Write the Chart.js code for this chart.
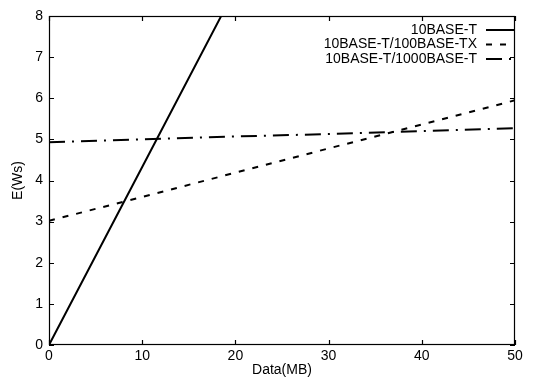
<!DOCTYPE html>
<html>
<head>
<meta charset="utf-8">
<script src="https://cdn.jsdelivr.net/npm/chart.js@4/dist/chart.umd.min.js"></script>
<style>
	body { margin: 0; background: #fff; }
	#wrap { width: 534px; height: 377px; }
</style>
</head>
<body>
<div id="wrap"><canvas id="mycanvas" width="534" height="377"></canvas></div>
<script>
// values (x = Data in MB, y = energy in Ws)
var dataMB = [0, 10, 20, 30, 40, 50];
var base10 = [0, 4.33, 8.66, 13.0, 17.3, 21.7];
var base100 = [3.02, 3.6, 4.19, 4.78, 5.36, 5.95];
var base1000 = [4.93, 5.0, 5.07, 5.13, 5.2, 5.27];
var seriesNames = ['10BASE-T', '10BASE-T/100BASE-TX', '10BASE-T/1000BASE-T'];
var xTicks = [0, 10, 20, 30, 40, 50];
var yTicks = [0, 1, 2, 3, 4, 5, 6, 7, 8];

function toPoints(ys) {
	var pts = [];
	for (var i in dataMB) {
		pts.push({x: dataMB[i], y: ys[i]});
	}
	return pts;
}

var fontName = '"Liberation Sans", Arial, sans-serif';

// gnuplot look: closed frame, inward ticks on all sides, legend top right
var framePlugin = {
	id: 'frame',
	afterDatasetsDraw: function(chart) {
		var ctx = chart.ctx;
		var a = chart.chartArea;
		var xs = chart.scales.x, ys = chart.scales.y;
		var t = 5;
		ctx.save();
		ctx.strokeStyle = '#000';
		ctx.lineWidth = 1.2;
		ctx.setLineDash([]);
		ctx.strokeRect(a.left + 0.5, a.top + 0.5, a.right - a.left - 1, a.bottom - a.top - 1);
		ctx.beginPath();
		xTicks.forEach(function(v) {
			var px = Math.round(xs.getPixelForValue(v)) + 0.5;
			ctx.moveTo(px, a.bottom); ctx.lineTo(px, a.bottom - t);
			ctx.moveTo(px, a.top); ctx.lineTo(px, a.top + t);
		});
		yTicks.forEach(function(v) {
			var py = Math.round(ys.getPixelForValue(v)) + 0.5;
			ctx.moveTo(a.left, py); ctx.lineTo(a.left + t, py);
			ctx.moveTo(a.right, py); ctx.lineTo(a.right - t, py);
		});
		ctx.stroke();

		// legend
		ctx.font = '14px ' + fontName;
		ctx.fillStyle = '#000';
		ctx.textAlign = 'right';
		ctx.textBaseline = 'middle';
		chart.data.datasets.forEach(function(ds, i) {
			var y = 30 + i * 14.5;
			ctx.fillText(ds.label, 477, y);
			ctx.beginPath();
			ctx.lineWidth = ds.borderWidth;
			ctx.setLineDash(ds.borderDash || []);
			ctx.moveTo(486, y);
			ctx.lineTo(514, y);
			ctx.stroke();
		});
		ctx.restore();
	}
};

var chartdata = {
	datasets: [
		{
			label: seriesNames[0],
			data: toPoints(base10),
			borderColor: '#000',
			borderWidth: 2,
			borderDash: [],
			pointRadius: 0
		},
		{
			label: seriesNames[1],
			data: toPoints(base100),
			borderColor: '#000',
			borderWidth: 2,
			borderDash: [6, 8],
			pointRadius: 0
		},
		{
			label: seriesNames[2],
			data: toPoints(base1000),
			borderColor: '#000',
			borderWidth: 2,
			borderDash: [16, 7, 2, 7],
			pointRadius: 0
		}
	]
};

var ctx = document.getElementById('mycanvas');

var lineGraph = new Chart(ctx, {
	type: 'line',
	data: chartdata,
	plugins: [framePlugin],
	options: {
		responsive: false,
		animation: false,
		devicePixelRatio: 1,
		layout: { padding: { top: 16, right: 19, left: 0, bottom: 0 } },
		plugins: {
			legend: { display: false },
			tooltip: { enabled: false }
		},
		scales: {
			x: {
				type: 'linear',
				min: 0,
				max: 50,
				afterBuildTicks: function(scale) {
					scale.ticks = xTicks.map(function(v) { return {value: v}; });
				},
				afterFit: function(scale) {
					scale.height = 32;
					scale.paddingLeft = 0;
					scale.paddingRight = 0;
				},
				grid: { display: false, drawTicks: false },
				border: { display: false },
				ticks: {
					padding: 3,
					maxRotation: 0,
					color: '#000',
					font: { family: fontName, size: 14 }
				},
				title: {
					display: true,
					text: 'Data(MB)',
					color: '#000',
					padding: { top: 0, bottom: 0 },
					font: { family: fontName, size: 14, lineHeight: 1 }
				}
			},
			y: {
				type: 'linear',
				min: 0,
				max: 8,
				afterBuildTicks: function(scale) {
					scale.ticks = yTicks.map(function(v) { return {value: v}; });
				},
				afterFit: function(scale) {
					scale.width = 49;
				},
				grid: { display: false, drawTicks: false },
				border: { display: false },
				ticks: {
					padding: 6,
					color: '#000',
					font: { family: fontName, size: 14 }
				},
				title: {
					display: true,
					text: 'E(Ws)',
					color: '#000',
					padding: { top: 11, bottom: 0 },
					font: { family: fontName, size: 14, lineHeight: 1 }
				}
			}
		}
	}
});
</script>
</body>
</html>
